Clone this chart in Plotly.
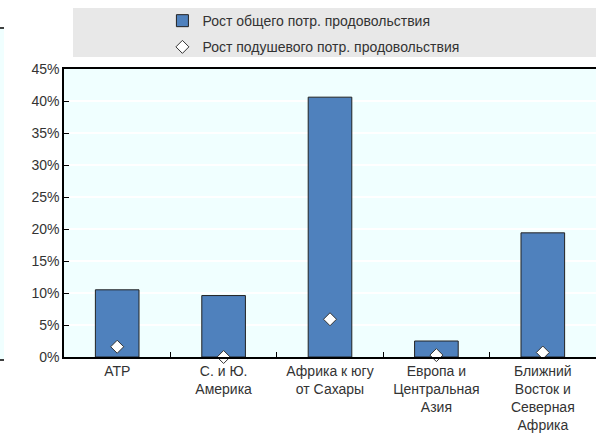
import plotly.graph_objects as go

categories = ["АТР", "С. и Ю.<br>Америка", "Африка к югу<br>от Сахары",
              "Европа и<br>Центральная<br>Азия", "Ближний<br>Восток и<br>Северная<br>Африка"]
total_growth = [10.5, 9.6, 40.6, 2.5, 19.4]
per_capita_growth = [1.6, 0.0, 5.9, 0.3, 0.7]
series_names = ["Рост общего потр. продовольствия", "Рост подушевого потр. продовольствия"]
y_ticks = [0, 5, 10, 15, 20, 25, 30, 35, 40, 45]

FONT = "Liberation Sans, Arial, sans-serif"
TXT = "#333333"

fig = go.Figure()
fig.add_trace(go.Bar(
    x=categories, y=total_growth, name=series_names[0],
    marker=dict(color="#4F81BD", line=dict(color="#222222", width=1)),
    width=0.41, legendgroup="a",
))
fig.add_trace(go.Scatter(
    x=categories, y=per_capita_growth, name=series_names[1], mode="markers",
    marker=dict(symbol="diamond", size=10, color="white", line=dict(color="#333333", width=1)),
    legendgroup="b", cliponaxis=False,
))

fig.update_layout(
    width=596, height=442,
    margin=dict(l=64, r=0, t=69, b=85, autoexpand=False),
    paper_bgcolor="white",
    plot_bgcolor="#F0FFFF",
    font=dict(family=FONT, size=14, color=TXT),
    showlegend=True,
    legend=dict(
        x=0.185, y=1.222, xanchor="left", yanchor="top",
        bgcolor="rgba(0,0,0,0)", font=dict(size=14, color=TXT),
        traceorder="grouped", tracegroupgap=5, itemwidth=30,
    ),
    bargap=0.59,
    xaxis=dict(
        automargin=False,
        showline=True, linecolor="black", linewidth=1.5, mirror=True,
        ticks="inside", tickson="boundaries", ticklen=5, tickcolor="black",
        tickfont=dict(size=14, color=TXT), showgrid=False,
    ),
    yaxis=dict(
        automargin=False,
        range=[0, 45], tickvals=y_ticks, ticktext=[f"{v}%" for v in y_ticks],
        showline=True, linecolor="black", linewidth=1.5,
        ticks="inside", ticklen=5, tickcolor="black",
        showgrid=True, gridcolor="white", gridwidth=1.5,
        zeroline=False, tickfont=dict(size=14, color=TXT),
    ),
    shapes=[
        dict(type="rect", xref="paper", yref="paper", x0=0.0169, x1=1.0,
             y0=1.0417, y1=1.2118, fillcolor="#E8E8E8", line=dict(width=0), layer="below"),
        dict(type="rect", xref="paper", yref="paper", x0=-0.1203, x1=-0.1128,
             y0=-0.0104, y1=1.1424, fillcolor="#F0FFFF", line=dict(width=0), layer="below"),
        dict(type="line", xref="paper", yref="paper", x0=-0.1203, x1=-0.1128,
             y0=1.1424, y1=1.1424, line=dict(color="black", width=1.5)),
        dict(type="line", xref="paper", yref="paper", x0=-0.1203, x1=-0.1128,
             y0=-0.0104, y1=-0.0104, line=dict(color="black", width=1.5)),
    ],
)

fig.write_html("out.html", config={"displayModeBar": False},
               post_script="document.body.style.margin='0';")
